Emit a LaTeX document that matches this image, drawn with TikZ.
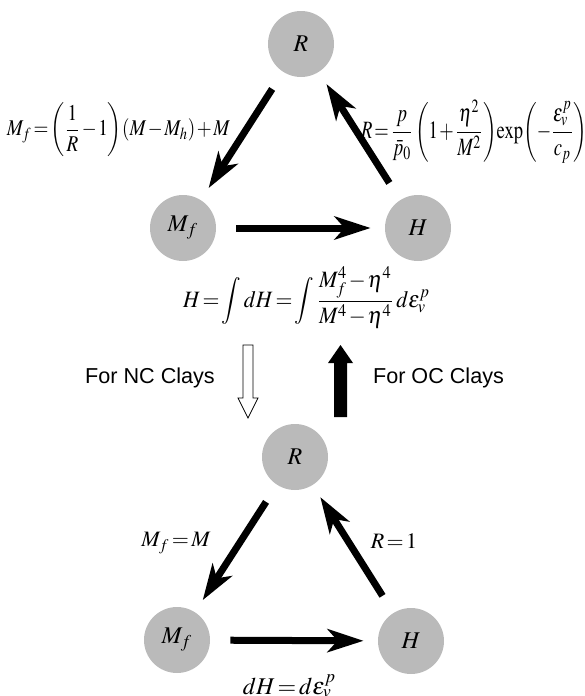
\documentclass[tikz,border=0pt]{standalone}
\usepackage{amsmath}
\usepackage{graphicx}
\usepackage{mathptmx}
\usepackage[no-math]{fontspec}
\setmainfont{Liberation Serif}
\newfontfamily\clayfont{Liberation Sans}
\usetikzlibrary{arrows.meta, positioning}

% tight spacing round = + - as in the printed figure
\newcommand{\tightmath}{\thickmuskip=2mu\medmuskip=1.5mu}
% squeeze a formula into the box it takes in the figure (width, total height)
\newcommand{\fitformula}[3]{\resizebox*{#1}{#2}{$\displaystyle #3$}}

\begin{document}
\begin{tikzpicture}[
    x=0.5pt, y=-0.5pt,
    soil/.style={circle, fill=black!27, minimum size=33pt, inner sep=0pt, font=\fontsize{12}{14}\selectfont},
    flow/.style={line width=3.5pt, -{Stealth[length=18pt, width=11.5pt, inset=5pt]}, shorten <=10pt, shorten >=7pt},
    eqn/.style={inner sep=0pt, font=\fontsize{12}{14}\selectfont\tightmath},
    small eqn/.style={inner sep=0pt, font=\fontsize{11}{13}\selectfont\tightmath},
    claylabel/.style={inner sep=0pt, font=\clayfont\fontsize{10.8}{13}\selectfont},
    ]

    \useasboundingbox (0,0) rectangle (584,696);

    % ==========================================
    % Upper cycle
    % ==========================================
    \node[soil] (R1) at (301,44) {$R$};
    \node[soil] (Mf1) at (183,228) {$M_f$};
    \node[soil] (H1) at (418,228) {$H$};

    \draw[flow] (R1) -- (Mf1);
    \draw[flow] (H1) -- (R1);
    \draw[flow] (Mf1) -- (H1);

    \node[eqn] (mfrule) at (118.5,130) {\fitformula{111.5pt}{27pt}{M_f=\left(\frac{1}{R}-1\right)\!\left(M-M_h\right)+M}};
    \node[eqn] (rrule) at (474,131.5) {\fitformula{113pt}{31.5pt}{R=\frac{p}{\bar{p}_0}\left(1+\frac{\eta^2}{M^2}\right)\!\exp\!\left(-\frac{\varepsilon_v^p}{c_p}\right)}};
    \node[eqn] (hrule) at (306.5,297.5) {\fitformula{123.5pt}{30.5pt}{H=\int dH=\int\frac{M_f^4-\eta^4}{M^4-\eta^4}\,d\varepsilon_v^p}};

    % ==========================================
    % Switch between the cycles
    % ==========================================
    \draw[thin, fill=white] (243,345) -- (253,345) -- (253,398) -- (258,398) -- (248,418)
        -- (238,398) -- (243,398) -- cycle;
    \fill (334,417) -- (334,363) -- (328,363) -- (340.5,345) -- (353,363) -- (347,363)
        -- (347,417) -- cycle;

    \node[claylabel] (nc) at (150,378) {For NC Clays};
    \node[claylabel] (oc) at (438.5,378) {For OC Clays};

    % ==========================================
    % Lower cycle
    % ==========================================
    \node[soil] (R2) at (295,457) {$R$};
    \node[soil] (Mf2) at (177,640) {$M_f$};
    \node[soil] (H2) at (411,641) {$H$};

    \draw[flow] (R2) -- (Mf2);
    \draw[flow] (H2) -- (R2);
    \draw[flow] (Mf2) -- (H2);

    \node[small eqn] (mfeq) at (176,543) {$M_f=M$};
    \node[small eqn] (req) at (394,541) {$R=1$};
    \node[eqn] (dheq) at (289.5,686) {$dH=d\varepsilon_v^p$};

\end{tikzpicture}
\end{document}
